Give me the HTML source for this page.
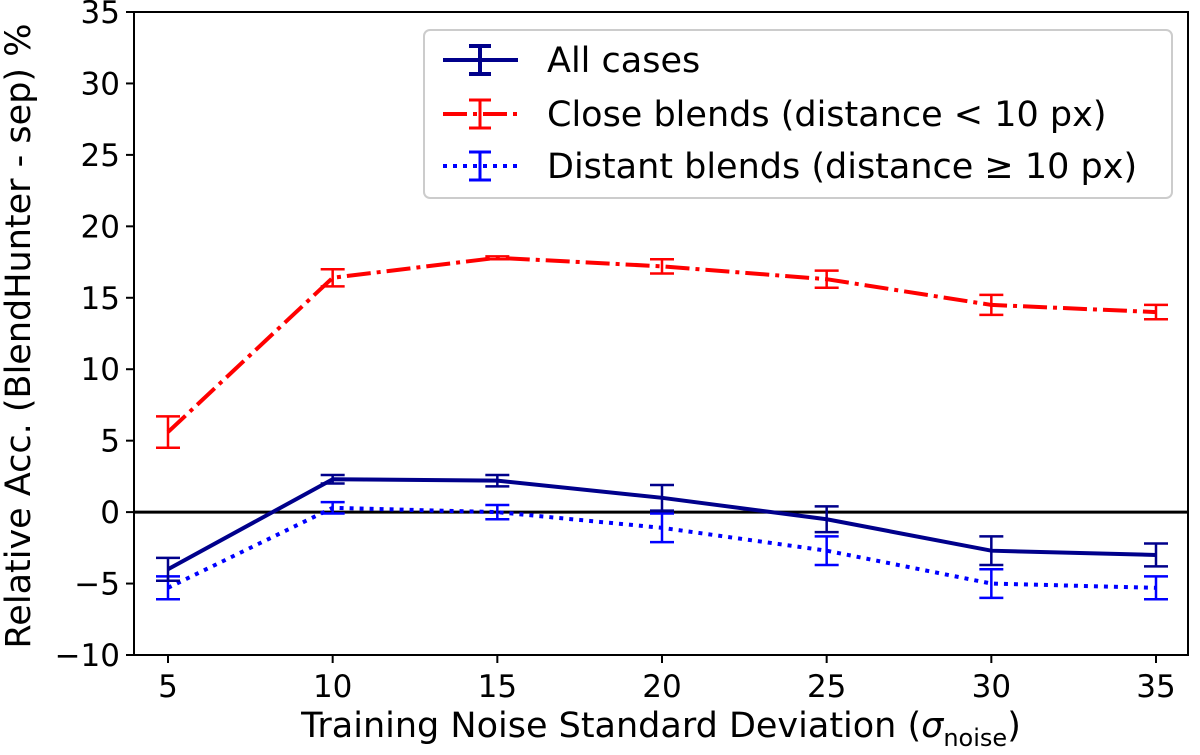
<!DOCTYPE html>
<html><head><meta charset="utf-8"><style>
body{margin:0;background:#fff}
svg{font-family:"DejaVu Sans","Liberation Sans",sans-serif}
</style></head><body>
<svg id="chart" width="1200" height="750" viewBox="0 0 1200 750">
<g id="plot"></g>
</svg>
<script>
const categories=[5,10,15,20,25,30,35];
const allVals=[-4.0,2.3,2.2,1.0,-0.5,-2.7,-3.0];
const allErr=[0.8,0.3,0.4,0.9,0.9,1.0,0.8];
const closeVals=[5.6,16.4,17.8,17.2,16.3,14.5,14.0];
const closeErr=[1.1,0.6,0.1,0.5,0.6,0.7,0.5];
const distVals=[-5.3,0.3,0.0,-1.1,-2.7,-5.0,-5.3];
const distErr=[0.8,0.4,0.5,1.0,1.0,1.0,0.8];
const yTicks=[-10,-5,0,5,10,15,20,25,30,35];
const xTicks=[5,10,15,20,25,30,35];

const L=134,R=1188,T=12,B=655;
const X=v=>168+(v-5)*(1156-168)/30;
const Y=v=>B-(v+10)*(B-T)/45;
const NS="http://www.w3.org/2000/svg";
const g=document.getElementById('plot');
function mk(t,a,p){const e=document.createElementNS(NS,t);for(const k in a)e.setAttribute(k,a[k]);(p||g).appendChild(e);return e;}

let z=mk('line',{x1:L,x2:R,y1:Y(0),y2:Y(0),stroke:'#000','stroke-width':3});



function series(name,vals,errs,color,dash){
  const sg=mk('g',{});
  
  
  const pts=categories.map((c,i)=>X(c)+','+Y(vals[i])).join(' ');
  const pl=mk('polyline',{points:pts,fill:'none',stroke:color,'stroke-width':4,'stroke-dasharray':dash},sg);
  
  
  categories.forEach((c,i)=>{
    const x=X(c),y1=Y(vals[i]-errs[i]),y2=Y(vals[i]+errs[i]);
    const eb=mk('path',{d:`M${x},${y1}V${y2}M${x-12},${y1}H${x+12}M${x-12},${y2}H${x+12}`,stroke:color,'stroke-width':2.5,fill:'none'},sg);
    
    
  });
}
series('close-blends',closeVals,closeErr,'#ff0000','24 6 4 6');
series('distant-blends',distVals,distErr,'#0000ff','4 6');
series('all-cases',allVals,allErr,'#00008b','');

let fr=mk('rect',{x:L,y:T,width:R-L,height:B-T,fill:'none',stroke:'#000','stroke-width':2});


yTicks.forEach(v=>{
  const y=Y(v);
  mk('line',{x1:L-8,x2:L,y1:y,y2:y,stroke:'#000','stroke-width':2});
  const t=mk('text',{x:L-14,y:y+11,'text-anchor':'end','font-size':31});
  t.textContent=v<0?'\u2212'+(-v):v;
  
  
});
xTicks.forEach(v=>{
  const x=X(v);
  mk('line',{x1:x,x2:x,y1:B,y2:B+8,stroke:'#000','stroke-width':2});
  const t=mk('text',{x:x,y:B+42,'text-anchor':'middle','font-size':31});
  t.textContent=v;
  
  
});
</script>
<svg style="position:absolute;left:0;top:0" width="1200" height="750">
<text x="661" y="737" text-anchor="middle" font-size="35" font-family="DejaVu Sans, sans-serif">Training Noise Standard Deviation (<tspan font-style="italic">σ</tspan><tspan font-size="24" dy="9">noise</tspan><tspan dy="-9">)</tspan></text>
<text transform="translate(30,336) rotate(-90)" text-anchor="middle" font-size="35" font-family="DejaVu Sans, sans-serif">Relative Acc. (BlendHunter - sep) %</text>
<g font-family="DejaVu Sans, sans-serif" font-size="35">
<rect x="424" y="30" width="748" height="168" rx="6" fill="#fff" stroke="#ccc" stroke-width="2"/>
<g>
<path d="M443,60H518M480,46V74M469,46H491M469,74H491" stroke="#00008b" stroke-width="4" fill="none"/>
<text x="547" y="72">All cases</text></g>
<g>
<path d="M443,114H518" stroke="#ff0000" stroke-width="4" stroke-dasharray="24 6 4 6" fill="none"/>
<path d="M480,100V128M469,100H491M469,128H491" stroke="#ff0000" stroke-width="3" fill="none"/>
<text x="547" y="126">Close blends (distance &lt; 10 px)</text></g>
<g>
<path d="M443,166H518" stroke="#0000ff" stroke-width="4" stroke-dasharray="4 6" fill="none"/>
<path d="M480,152V180M469,152H491M469,180H491" stroke="#0000ff" stroke-width="3" fill="none"/>
<text x="547" y="178">Distant blends (distance ≥ 10 px)</text></g>
</g>
</svg>
</body></html>
